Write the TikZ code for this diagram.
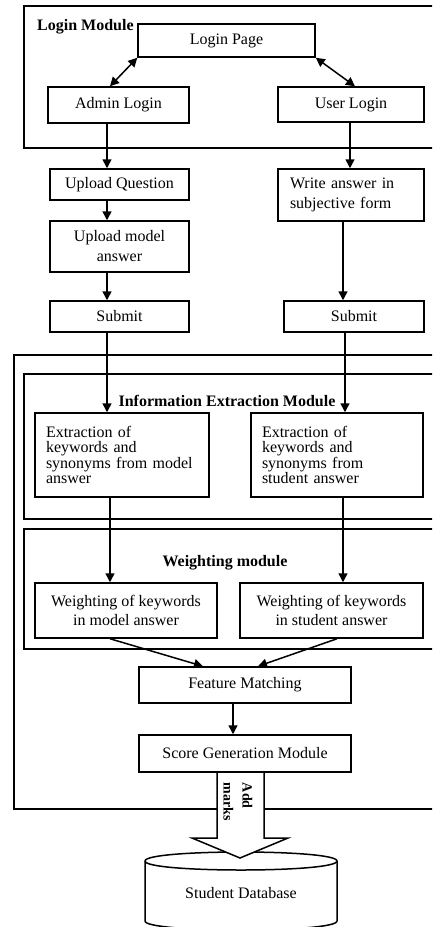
\documentclass[tikz,border=0pt]{standalone}
\usepackage{fontspec}
\setmainfont{Liberation Serif}
\usetikzlibrary{arrows.meta}
\tikzset{
  box/.style={draw, line width=1.5pt, inner sep=0pt, align=center, font=\fontsize{16}{20}\selectfont},
  sz/.style 2 args={minimum width=#1pt, minimum height=#2pt},
  lbox/.style={box, align=left},
  frame/.style={draw, line width=1.5pt},
  lab/.style={font=\bfseries\fontsize{16}{20}\selectfont, inner sep=0pt},
  arr/.style={line width=1.5pt, -{Triangle[length=9pt,width=9pt]}},
  darr/.style={line width=1.5pt, {Triangle[length=9pt,width=9pt]}-{Triangle[length=9pt,width=9pt]}}
}
\begin{document}
\begin{tikzpicture}[x=1pt,y=-1pt]
\useasboundingbox (0,0) rectangle (432,927);
\clip (0,0) rectangle (432,927);

% frames
\draw[frame] (24,6) rectangle (445,148);
\draw[frame] (14,355) rectangle (445,809);
\draw[frame] (24,374) rectangle (445,519);
\draw[frame] (24,529) rectangle (445,649);
\node[lab, anchor=west] (lmlab) at (37,27) {Login Module};
\node[lab] (ielab) at (227,401) {Information Extraction Module};
\node[lab] (wmlab) at (225,563) {Weighting module};

% column coordinates
\coordinate (cL) at (107,0);
\coordinate (cL2) at (110,0);
\coordinate (cR1) at (350,0);
\coordinate (cR2) at (343,0);
\coordinate (cR3) at (345,0);
\coordinate (fL) at (203,0);
\coordinate (fR) at (258,0);
\coordinate (wR) at (337,0);
\coordinate (cM) at (233,0);
\coordinate (aL) at (110,0);
\coordinate (aR) at (355,0);

% nodes
\node[box, sz={177}{33}] (lp) at (226.5,40.5) {Login Page};
\node[box, sz={141}{36}] (admin) at (118.5,105) {Admin Login};
\node[box, sz={146}{35}] (user) at (351,104.5) {User Login};
\node[box, sz={139}{31}] (uq) at (119.5,184.5) {Upload Question};
\node[box, sz={139}{51}] (um) at (119.5,246.5) {Upload model\\answer};
\node[box, sz={139}{31}] (s1) at (119.5,316.5) {Submit};
\node[lbox, sz={146}{52}, text width=122pt] (wr) at (351,195) {Write answer in\\subjective form};
\node[box, sz={140}{31}] (s2) at (354,316.5) {Submit};
\node[lbox, sz={174}{84}, text width=152pt, font=\fontsize{16}{15.4}\selectfont] (e1) at (122,455) {Extraction of\\keywords and\\synonyms from model\\answer};
\node[lbox, sz={172}{84}, text width=150pt, font=\fontsize{16}{15.4}\selectfont] (e2) at (337,455) {Extraction of\\keywords and\\synonyms from\\student answer};
\node[box, sz={182}{55}, font=\fontsize{16}{19}\selectfont] (w1) at (126,610.5) {Weighting of keywords\\in model answer};
\node[box, sz={183}{55}, font=\fontsize{16}{19}\selectfont] (w2) at (331.5,610.5) {Weighting of keywords\\in student answer};
\node[box, sz={212}{36}] (fm) at (245,685) {Feature Matching};
\node[box, sz={212}{37}] (sg) at (245,753.5) {Score Generation Module};

% connectors
\draw[darr] (lp.south west) -- (admin.north -| aL);
\draw[darr] (lp.south east) -- (user.north -| aR);
\draw[arr] (admin.south -| cL) -- (uq.north -| cL);
\draw[arr] (uq.south -| cL) -- (um.north -| cL);
\draw[arr] (um.south -| cL) -- (s1.north -| cL);
\draw[arr] (s1.south -| cL) -- (e1.north -| cL);
\draw[arr] (e1.south -| cL2) -- (w1.north -| cL2);
\draw[arr] (user.south -| cR1) -- (wr.north -| cR1);
\draw[arr] (wr.south -| cR2) -- (s2.north -| cR2);
\draw[arr] (s2.south -| cR3) -- (e2.north -| cR3);
\draw[arr] (e2.south -| cR2) -- (w2.north -| cR2);
\draw[arr] (w1.south -| cL2) -- (fm.north -| fL);
\draw[arr] (w2.south -| wR) -- (fm.north -| fR);
\draw[arr] (fm.south -| cM) -- (sg.north -| cM);

% database cylinder
\draw[line width=1.5pt, fill=white] (145,861) -- (145,921) .. controls (145,933) and (337,933) .. (337,921) -- (337,861);
\draw[line width=1.5pt] (145,861) .. controls (145,849) and (337,849) .. (337,861) .. controls (337,873) and (145,873) .. (145,861);
\node[font=\fontsize{16}{20}\selectfont, inner sep=0pt] (db) at (241,893) {Student Database};

% big arrow
\draw[line width=1.5pt, fill=white, line join=miter] (217,772) -- (217,838) -- (192,838) -- (240,858) -- (288,838) -- (264,838) -- (264,772) -- cycle;
\node[rotate=-90, align=left, inner sep=0pt, font=\bfseries\fontsize{14}{19}\selectfont] (am) at (238,802) {Add\\marks};
\end{tikzpicture}
\end{document}
